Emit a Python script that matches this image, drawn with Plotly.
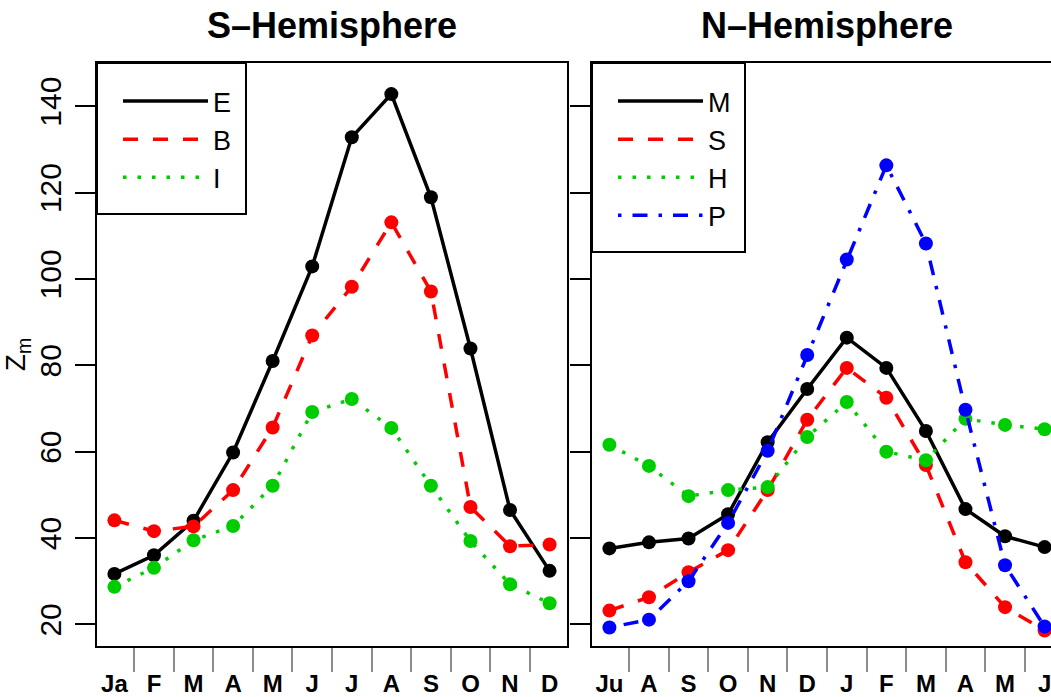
import plotly.graph_objects as go

# ---- data ----
months_s = ["Ja", "F", "M", "A", "M", "J", "J", "A", "S", "O", "N", "D"]
months_n = ["Ju", "A", "S", "O", "N", "D", "J", "F", "M", "A", "M", "J"]

s_E = [31.7, 36.0, 44.0, 59.8, 81.0, 102.9, 132.8, 142.8, 118.9, 83.9, 46.5, 32.4]
s_B = [44.1, 41.6, 42.7, 51.1, 65.6, 86.9, 98.2, 113.1, 97.1, 47.2, 38.1, 38.5]
s_I = [28.7, 33.1, 39.5, 42.8, 52.1, 69.2, 72.2, 65.5, 52.1, 39.3, 29.3, 24.9]

n_M = [37.6, 39.0, 39.9, 45.5, 62.2, 74.5, 86.4, 79.4, 64.8, 46.7, 40.4, 37.9]
n_S = [23.2, 26.3, 32.1, 37.2, 51.1, 67.4, 79.4, 72.5, 56.9, 34.4, 24.0, 18.6]
n_H = [61.6, 56.7, 49.7, 51.1, 51.8, 63.4, 71.5, 60.0, 58.0, 67.6, 66.2, 65.2]
n_P = [19.3, 21.1, 30.0, 43.5, 60.2, 82.4, 104.5, 126.3, 108.2, 69.7, 33.7, 19.5]

y_ticks = [20, 40, 60, 80, 100, 120, 140]

# ---- styling ----
FONT = "Liberation Sans, Arial, sans-serif"
BLACK, RED, GREEN, BLUE = "#000000", "#FF0000", "#00CD00", "#0000FF"
DASH_SOLID = "solid"
DASH_DASH = "15px,15px"
DASH_DOT = "3.5px,11px"
DASH_DOTDASH = "3.5px,11px,15px,11px"
LW = 3.5
MS = 14

idx = list(range(1, 13))
minor_vals = [i + 0.5 for i in range(1, 12)]

fig = go.Figure()

def add_series(x, y, name, color, dash, xa, ya, legend):
    fig.add_trace(go.Scatter(
        x=x, y=y, mode="lines+markers", name=name, showlegend=False,
        line=dict(color=color, width=LW, dash=dash),
        marker=dict(color=color, size=MS),
        xaxis=xa, yaxis=ya, cliponaxis=False))
    fig.add_trace(go.Scatter(
        x=[None], y=[None], mode="lines", name=name, showlegend=True,
        line=dict(color=color, width=LW, dash=dash),
        xaxis=xa, yaxis=ya, legend=legend))

add_series(idx, s_E, "E", BLACK, DASH_SOLID, "x", "y", "legend")
add_series(idx, s_B, "B", RED, DASH_DASH, "x", "y", "legend")
add_series(idx, s_I, "I", GREEN, DASH_DOT, "x", "y", "legend")

add_series(idx, n_M, "M", BLACK, DASH_SOLID, "x2", "y2", "legend2")
add_series(idx, n_S, "S", RED, DASH_DASH, "x2", "y2", "legend2")
add_series(idx, n_H, "H", GREEN, DASH_DOT, "x2", "y2", "legend2")
add_series(idx, n_P, "P", BLUE, DASH_DOTDASH, "x2", "y2", "legend2")

W, H = 1051, 697
ML, MR, MT, MB = 97, 0, 63, 51
PW = W - ML - MR
PH = H - MT - MB
panel_w = 470
gap = 25
d1 = [0, panel_w / PW]
d2 = [(panel_w + gap) / PW, 1]

xr1 = [0.56, 12.44]
ppu = panel_w / (xr1[1] - xr1[0])
xr2 = [0.56, 0.56 + (PW - panel_w - gap) / ppu]


def px_x(p):
    return (p - ML) / PW


def px_y(p):
    return 1 - (p - MT) / PH


xaxis_common = dict(
    tickmode="array", tickvals=idx, ticks="", showgrid=False, zeroline=False,
    showline=True, linecolor="black", linewidth=2, mirror=True, automargin=False,
    tickfont=dict(family=FONT, size=24, color="black", weight="bold"),
    ticklabelstandoff=15, ticklabeloverflow="allow",
    minor=dict(tickmode="array", tickvals=minor_vals, ticks="outside",
               ticklen=24, tickwidth=2, tickcolor="#8c8c8c", showgrid=False),
)
yaxis_common = dict(
    range=[15, 150], tickmode="array", tickvals=y_ticks, ticks="outside",
    ticklen=20, tickwidth=2, tickcolor="black", showgrid=False, zeroline=False,
    showline=True, linecolor="black", linewidth=2, automargin=False,
)

legend_common = dict(
    xref="paper", yref="paper", xanchor="left", yanchor="top",
    bgcolor="rgba(0,0,0,0)", borderwidth=0,
    font=dict(family=FONT, size=27), itemwidth=85, tracegroupgap=0,
)

title_font = dict(family=FONT, size=36, color="black", weight="bold")

fig.update_layout(
    width=W, height=H,
    margin=dict(l=ML, r=MR, t=MT, b=MB, autoexpand=False),
    paper_bgcolor="white", plot_bgcolor="white",
    font=dict(family=FONT, color="black"),
    xaxis=dict(domain=d1, range=xr1, ticktext=months_s, **xaxis_common),
    xaxis2=dict(domain=d2, range=xr2, ticktext=months_n, anchor="y2", **xaxis_common),
    yaxis=dict(
        domain=[0, 1], mirror=True, tickangle=-90,
        tickfont=dict(family=FONT, size=30, color="black"),
        ticklabelstandoff=2,
        title=dict(text="Z<sub>m</sub>", font=dict(family=FONT, size=28), standoff=2),
        **yaxis_common),
    yaxis2=dict(domain=[0, 1], anchor="x2", mirror=False, showticklabels=False,
                **yaxis_common),
    legend=dict(x=px_x(118), y=px_y(77), **legend_common),
    legend2=dict(x=px_x(613), y=px_y(77), **legend_common),
    shapes=[
        dict(type="rect", xref="paper", yref="paper", layer="below",
             x0=px_x(97), x1=px_x(246), y0=px_y(214), y1=px_y(63),
             line=dict(color="black", width=2), fillcolor="white"),
        dict(type="rect", xref="paper", yref="paper", layer="below",
             x0=px_x(592), x1=px_x(745), y0=px_y(252), y1=px_y(63),
             line=dict(color="black", width=2), fillcolor="white"),
    ],
    annotations=[
        dict(text="S–Hemisphere", xref="x domain", yref="paper", x=0.5, y=1,
             yshift=38, showarrow=False, xanchor="center", yanchor="middle",
             font=title_font),
        dict(text="N–Hemisphere", xref="x2 domain", yref="paper",
             x=0.5 * panel_w / (PW - panel_w - gap), y=1,
             yshift=38, showarrow=False, xanchor="center", yanchor="middle",
             font=title_font),
    ],
)

fig.write_html("out.html")
